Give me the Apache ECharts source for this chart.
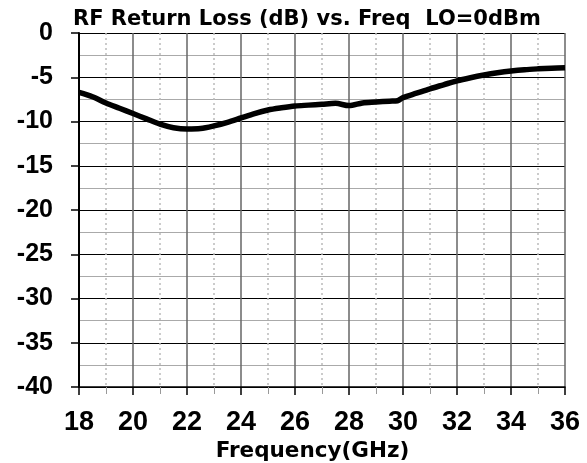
<!DOCTYPE html>
<html>
<head>
<meta charset="utf-8">
<script src="https://cdn.jsdelivr.net/npm/echarts@6/dist/echarts.min.js"></script>
<style>
html,body{margin:0;padding:0;background:#fff;}
#chart{width:587px;height:463px;}
</style>
</head>
<body>
<div id="chart"></div>
<script>
// 频率 (GHz) / 回波损耗 (dB)
var freq = [18, 18.5, 19, 19.5, 20, 20.5, 21, 21.5, 22, 22.5, 23, 23.5, 24, 24.5, 25, 25.5, 26, 26.5, 27, 27.5, 28, 28.5, 29, 29.5, 29.8, 30, 30.5, 31, 31.5, 32, 32.5, 33, 33.5, 34, 34.5, 35, 35.5, 36];
var rl = [-6.7, -7.2, -7.9, -8.5, -9.1, -9.7, -10.3, -10.7, -10.85, -10.8, -10.5, -10.1, -9.6, -9.1, -8.7, -8.45, -8.25, -8.15, -8.05, -7.95, -8.2, -7.9, -7.8, -7.7, -7.65, -7.3, -6.8, -6.3, -5.85, -5.4, -5.05, -4.75, -4.5, -4.3, -4.15, -4.05, -3.97, -3.92];

var chart = echarts.init(document.getElementById('chart'));
var pts = [];
for (var i = 0; i < freq.length; i++) pts.push([freq[i], rl[i]]);

var option = {
    animation: false,
    title: {
        text: 'RF Return Loss (dB) vs. Freq  LO=0dBm',
        left: 68,
        top: 4,
        textStyle: { fontFamily: 'DejaVu Sans', fontWeight: 'bold', fontSize: 21, color: '#000' }
    },
    grid: { left: 79, right: 22, top: 33, bottom: 76, outerBoundsMode: 'none', containLabel: false },
    xAxis: {
        type: 'value',
        min: 18, max: 36, interval: 2,
        name: 'Frequency(GHz)',
        nameLocation: 'middle',
        nameGap: 50,
        nameTextStyle: { fontFamily: 'DejaVu Sans', fontWeight: 'bold', fontSize: 21.5, color: '#000', padding: [0, 19, 0, 0] },
        axisLine: { show: true, onZero: false, lineStyle: { color: '#000', width: 1.5 } },
        axisTick: { show: true, length: 8, lineStyle: { color: '#000', width: 1.5 } },
        minorTick: { show: true, splitNumber: 2, length: 7, lineStyle: { color: '#999', width: 1 } },
        axisLabel: { margin: 22, fontFamily: 'Liberation Sans', fontWeight: 'bold', fontSize: 27, color: '#000' },
        splitLine: { show: true, lineStyle: { color: '#666', width: 1.5 } },
        minorSplitLine: { show: true, lineStyle: { color: '#bbb', width: 1.5, type: [2, 3] } }
    },
    yAxis: {
        type: 'value',
        min: -40, max: 0, interval: 5,
        axisLine: { show: true, onZero: false, lineStyle: { color: '#000', width: 2 } },
        axisTick: { show: true, length: 8, lineStyle: { color: '#000', width: 1.5 } },
        minorTick: { show: false, splitNumber: 2 },
        axisLabel: { margin: 26, fontFamily: 'Liberation Sans', fontWeight: 'bold', fontSize: 25, color: '#000' },
        splitLine: { show: true, lineStyle: { color: '#000', width: 1.2 } },
        minorSplitLine: { show: true, lineStyle: { color: '#aaa', width: 1.2 } }
    },
    series: [{
        type: 'line',
        data: pts,
        showSymbol: false,
        smooth: 0.3,
        lineStyle: { color: '#000', width: 5.5 }
    }]
};
chart.setOption(option);
</script>
</body>
</html>
